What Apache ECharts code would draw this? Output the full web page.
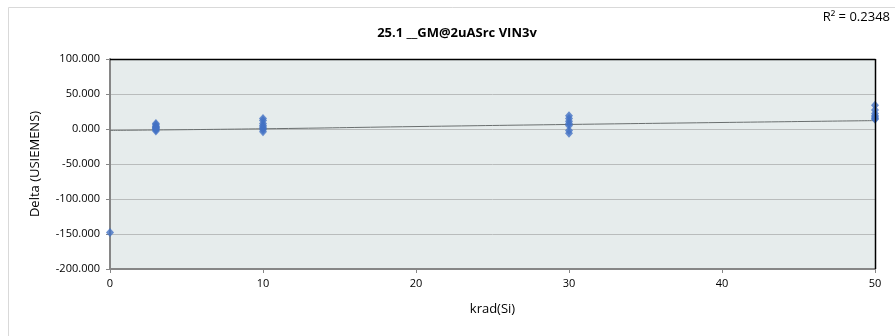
<!DOCTYPE html>
<html>
<head>
<meta charset="utf-8">
<script src="https://cdn.jsdelivr.net/npm/echarts@6/dist/echarts.min.js"></script>
<style>html,body{margin:0;padding:0;background:#fff;}#c{width:895px;height:336px;}</style>
</head>
<body>
<div id="c"></div>
<script>
var xTicks = [0, 10, 20, 30, 40, 50];
var doseX = [0, 3, 3, 3, 3, 3, 3, 3, 3, 3, 10, 10, 10, 10, 10, 10, 10, 10, 30, 30, 30, 30, 30, 30, 30, 50, 50, 50, 50, 50, 50, 50];
var deltaY = [-148, 8, 6, 4, 3, 2, 1, 0, -1, -3, 15, 12, 8, 5, 3, 1, -1, -4, 19, 15, 11, 8, 5, -2, -6, 34, 27, 22, 19, 17, 15, 14];
var trendX = [0, 10, 20, 30, 40, 50];
var trendY = [-2, 0.3, 3.5, 6.5, 9.3, 12];
var r2Text = 'R² = 0.2348';

var chart = echarts.init(document.getElementById('c'));
var pts = doseX.map(function (x, i) { return [x, deltaY[i]]; });
var trend = trendX.map(function (x, i) { return [x, trendY[i]]; });
chart.setOption({
  animation: false,
  backgroundColor: '#fff',
  title: {
    text: '25.1 __GM@2uASrc VIN3v',
    left: 452, top: 22, textAlign: 'center',
    textStyle: { fontFamily: 'Open Sans', fontSize: 13, fontWeight: 'bold', color: '#000' }
  },
  graphic: [
    { type: 'rect', shape: { x: 8.5, y: 7.5, width: 900, height: 340 }, style: { fill: 'none', stroke: '#d9d9d9', lineWidth: 1 }, silent: true, z: -1 },
    { type: 'text', right: 5, top: 11, style: { text: r2Text, fontFamily: 'Open Sans', fontSize: 13, fill: '#000' } },
    { type: 'line', shape: { x1: 110, y1: 59.5, x2: 875.5, y2: 59.5 }, style: { stroke: '#000', lineWidth: 1.5 }, z: 10 },
    { type: 'line', shape: { x1: 875.5, y1: 59, x2: 875.5, y2: 269 }, style: { stroke: '#000', lineWidth: 1.5 }, z: 10 }
  ],
  grid: { left: 110, right: 20, top: 59, bottom: 67, show: true, backgroundColor: '#e6ecec', borderWidth: 0 },
  xAxis: {
    type: 'value', min: 0, max: 50, interval: 10,
    name: 'krad(Si)', nameLocation: 'middle', nameGap: 34,
    nameTextStyle: { fontFamily: 'Open Sans', fontSize: 13, color: '#000' },
    axisLine: { show: true, onZero: false, lineStyle: { color: '#868686', width: 2 } },
    axisTick: { show: true, length: 4, lineStyle: { color: '#868686' } },
    axisLabel: { fontFamily: 'Open Sans', fontSize: 11, color: '#000', margin: 9 },
    splitLine: { show: false }
  },
  yAxis: {
    type: 'value', min: -200, max: 100, interval: 50,
    name: 'Delta (USIEMENS)', nameLocation: 'middle', nameGap: 68,
    nameTextStyle: { fontFamily: 'Open Sans', fontSize: 13, color: '#000' },
    axisLine: { show: true, lineStyle: { color: '#868686', width: 2 } },
    axisTick: { show: true, length: 4, lineStyle: { color: '#868686' } },
    axisLabel: { fontFamily: 'Open Sans', fontSize: 11, color: '#000', margin: 10, formatter: function (v) { return v.toFixed(3); } },
    splitLine: { show: true, lineStyle: { color: '#b9bcbc', width: 1 } }
  },
  series: [
    {
      type: 'line', data: trend, smooth: true, showSymbol: false, symbol: 'none',
      lineStyle: { color: '#6a6f6f', width: 1 }, z: 3
    },
    {
      type: 'scatter', data: pts, symbol: 'diamond', symbolSize: [8, 9],
      itemStyle: { color: '#4472c4' }, z: 4
    }
  ]
});
</script>
</body>
</html>
